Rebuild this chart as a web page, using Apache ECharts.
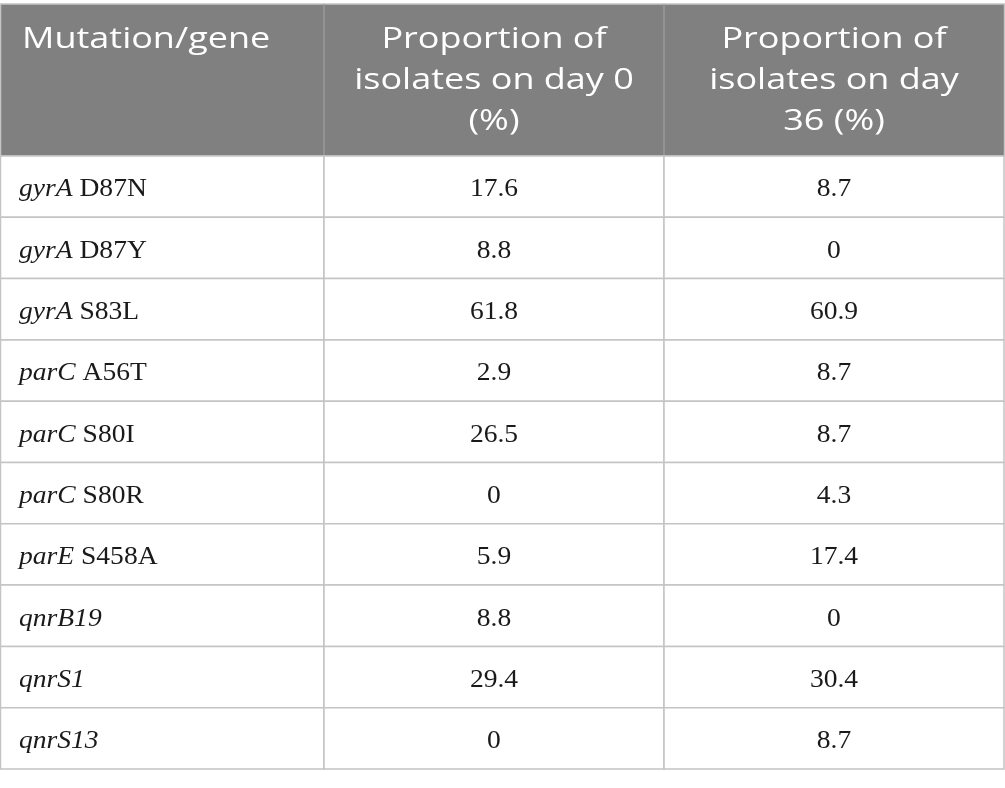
<!DOCTYPE html>
<html lang="en">
<head>
    <meta charset="UTF-8">
    <script src="https://cdn.jsdelivr.net/npm/echarts@6/dist/echarts.min.js"></script>
    <style>
        * { margin: 0; padding: 0; }
        body { background: #fff; }
        #table { width: 1005px; height: 788px; }
    </style>
</head>
<body>
<div id="table"></div>
<script>
    // table content
    const headers = ['Mutation/gene', 'Proportion of\nisolates on day 0\n(%)', 'Proportion of\nisolates on day\n36 (%)'];
    const genes = ['gyrA', 'gyrA', 'gyrA', 'parC', 'parC', 'parC', 'parE', 'qnrB19', 'qnrS1', 'qnrS13'];
    const mutations = ['D87N', 'D87Y', 'S83L', 'A56T', 'S80I', 'S80R', 'S458A', '', '', ''];
    const day0 = [17.6, 8.8, 61.8, 2.9, 26.5, 0, 5.9, 8.8, 29.4, 0];
    const day36 = [8.7, 0, 60.9, 8.7, 8.7, 4.3, 17.4, 0, 30.4, 8.7];

    // layout
    const colEdges = [0, 324, 664, 1004];
    const headTop = 4, headBottom = 156, tableBottom = 769;
    const lineColor = '#c4c4c4';
    const headColor = '#808080';
    const headLine = 41;
    const bodyFont = '"Liberation Serif", serif';

    const chart = echarts.init(document.getElementById('table'));

    const rowLabel = i => mutations[i] ? `{i|${genes[i]}} {n|${mutations[i]}}` : `{i|${genes[i]}}`;

    const headMid = (headTop + headBottom) / 2;
    const headerGraphics = [{
        type: 'rect',
        shape: {x: colEdges[0] + 0.5, y: headTop, width: colEdges[3] - colEdges[0], height: headBottom - headTop},
        style: {fill: headColor, stroke: lineColor, lineWidth: 1.5}
    }];
    [1, 2].forEach(k => headerGraphics.push({
        type: 'line',
        shape: {x1: colEdges[k], y1: headTop, x2: colEdges[k], y2: headBottom},
        style: {stroke: '#9a9a9a', lineWidth: 1.5}
    }));
    headers.forEach((h, k) => headerGraphics.push({
        type: 'text',
        x: k === 0 ? colEdges[0] + 22 : (colEdges[k] + colEdges[k + 1]) / 2,
        y: k === 0 ? headMid - headLine : headMid,
        scaleX: 1.2,
        style: {
            text: h,
            fill: '#fff',
            font: '30px "Open Sans", sans-serif',
            lineHeight: headLine,
            align: k === 0 ? 'left' : 'center',
            verticalAlign: 'middle'
        }
    }));

    chart.setOption({
        animation: false,
        grid: {left: colEdges[0], width: colEdges[3] - colEdges[0], top: headBottom, height: tableBottom - headBottom},
        xAxis: {type: 'value', min: colEdges[0], max: colEdges[3], show: false},
        yAxis: {type: 'category', inverse: true, data: genes.map((g, i) => i), show: false},
        graphic: headerGraphics,
        series: [{
            type: 'custom',
            data: genes.map((g, i) => [i]),
            encode: {y: 0},
            renderItem: (params, api) => {
                const i = params.dataIndex;
                const h = api.size([0, 1])[1];
                const cy = api.coord([0, i])[1];
                const top = cy - h / 2;
                const xs = colEdges.map(e => api.coord([e, i])[0]);
                const texts = [rowLabel(i), String(day0[i]), String(day36[i])];
                const children = [];
                for (let k = 0; k < 3; k++) {
                    children.push({
                        type: 'rect',
                        shape: {x: xs[k] + (k === 0 ? 0.5 : 0), y: top, width: xs[k + 1] - xs[k] - (k === 0 ? 0.5 : 0), height: h},
                        style: {fill: '#fff', stroke: lineColor, lineWidth: 1.5}
                    });
                    children.push({
                        type: 'text',
                        x: k === 0 ? xs[0] + 19 : (xs[k] + xs[k + 1]) / 2,
                        y: cy + 3,
                        scaleX: 1.06,
                        style: {
                            text: texts[k],
                            fill: '#1a1a1a',
                            font: '26px ' + bodyFont,
                            align: k === 0 ? 'left' : 'center',
                            verticalAlign: 'middle',
                            rich: {
                                i: {fontStyle: 'italic', fontSize: 26, fontFamily: bodyFont, fill: '#1a1a1a'},
                                n: {fontSize: 26, fontFamily: bodyFont, fill: '#1a1a1a'}
                            }
                        }
                    });
                }
                return {type: 'group', children};
            }
        }]
    });
</script>
</body>
</html>
